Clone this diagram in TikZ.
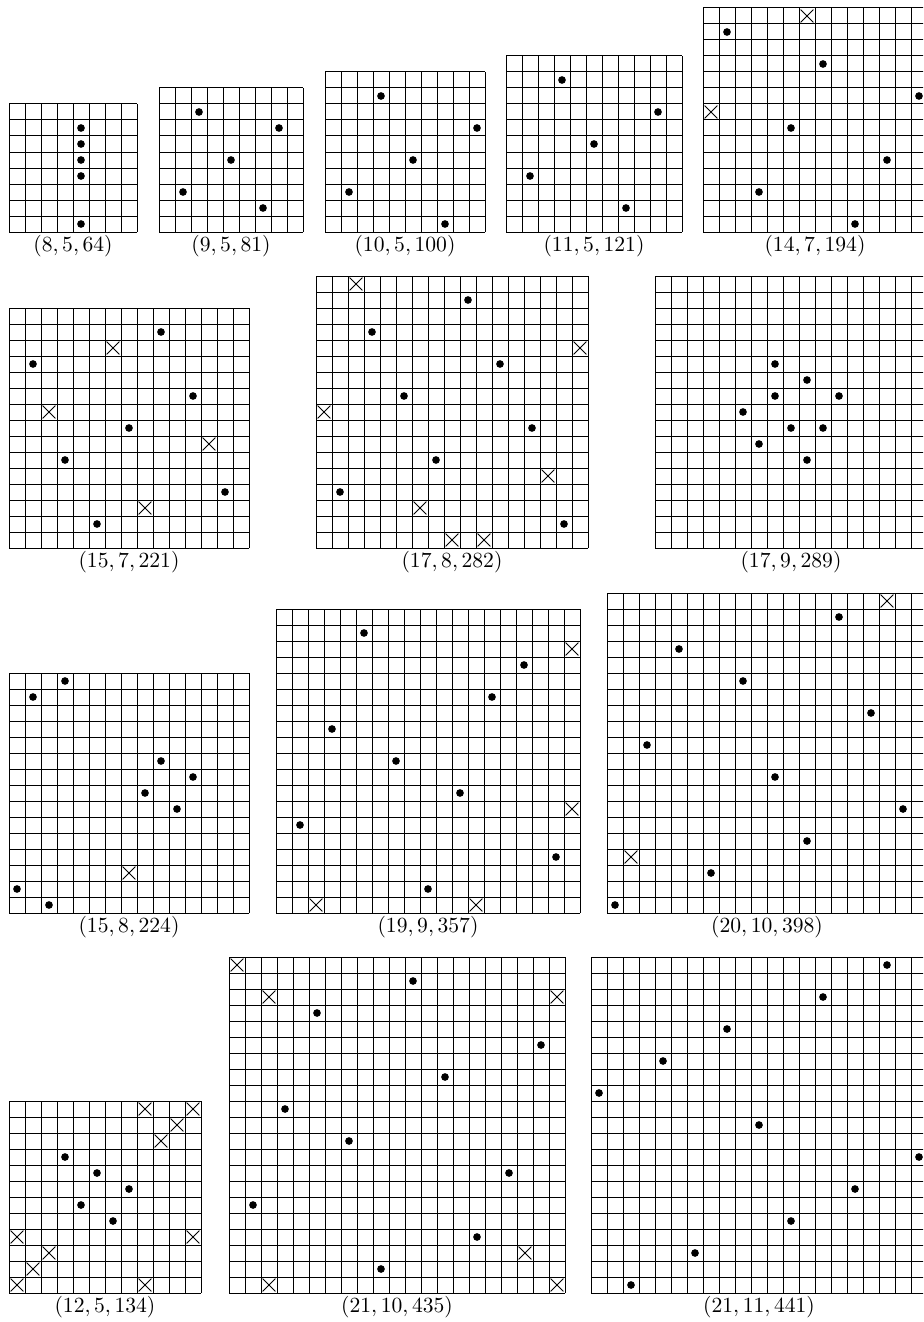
\documentclass[tikz,border=0pt]{standalone}
\usepackage{amsmath,amssymb}
\usepackage{tikz}
\usetikzlibrary{calc, positioning}

% #1 name, #2 left, #3 bottom, #4 size, #5 dots, #6 crosses, #7 label
\newcommand{\board}[7]{
  \begin{scope}[shift={(#2,-#3)}]
    \foreach \i in {0,...,#4} {
      \draw[gridline] (\i,0) -- (\i,#4);
      \draw[gridline] (0,\i) -- (#4,\i);
    }
    \foreach \cc/\rr in {#5}
      \fill (\cc+0.5,#4-\rr-0.5) circle (0.24);
    \ifx\relax#6\relax\else
    \foreach \cc/\rr in {#6}
      \draw[cross] (\cc+0.1,#4-\rr-0.1) -- (\cc+0.9,#4-\rr-0.9)
                   (\cc+0.1,#4-\rr-0.9) -- (\cc+0.9,#4-\rr-0.1);
    \fi
    \node[lbl] (#1) at (#4/2,-0.9) {$#7$};
  \end{scope}
}

\begin{document}
\begin{tikzpicture}[x=8pt, y=8pt,
    gridline/.style={line width=0.5pt},
    cross/.style={line width=0.45pt},
    lbl/.style={inner sep=0pt, scale=1.08}]
  \useasboundingbox (0,0) rectangle (57.6875,-82.625);
  \clip (0,0) rectangle (57.6875,-82.625);

  \board{b64}{0.5625}{14.5}{8}{4/1,4/2,4/3,4/4,4/7}{}{(8,5,64)}
  \board{b81}{9.9375}{14.5}{9}{2/1,7/2,4/4,1/6,6/7}{}{(9,5,81)}
  \board{b100}{20.3125}{14.5}{10}{3/1,9/3,5/5,1/7,7/9}{}{(10,5,100)}
  \board{b121}{31.625}{14.5}{11}{3/1,9/3,5/5,1/7,7/9}{}{(11,5,121)}
  \board{b194}{43.9375}{14.5}{14}{1/1,7/3,13/5,5/7,11/9,3/11,9/13}{6/0,0/6}{(14,7,194)}

  \board{b221}{0.5625}{34.25}{15}{9/1,1/3,11/5,7/7,3/9,13/11,5/13}{6/2,2/6,12/8,8/12}{(15,7,221)}
  \board{b282}{19.75}{34.25}{17}{9/1,3/3,11/5,5/7,13/9,7/11,1/13,15/15}{2/0,16/4,0/8,14/12,6/14,8/16,10/16}{(17,8,282)}
  \board{b289}{40.9375}{34.25}{17}{7/5,9/6,7/7,11/7,5/8,8/9,10/9,6/10,9/11}{}{(17,9,289)}

  \board{b224}{0.5625}{57.0625}{15}{3/0,1/1,9/5,11/6,8/7,10/8,0/13,2/14}{7/12}{(15,8,224)}
  \board{b357}{17.25}{57.0625}{19}{5/1,15/3,13/5,3/7,7/9,11/11,1/13,17/15,9/17}{18/2,18/12,2/18,12/18}{(19,9,357)}
  \board{b398}{37.9375}{57.0625}{20}{14/1,4/3,8/5,16/7,2/9,10/11,18/13,12/15,6/17,0/19}{17/0,1/16}{(20,10,398)}

  \board{b134}{0.5625}{80.8125}{12}{3/3,5/4,7/5,4/6,6/7}{8/0,11/0,10/1,9/2,0/8,11/8,2/9,1/10,0/11,8/11}{(12,5,134)}
  \board{b435}{14.3125}{80.8125}{21}{11/1,5/3,19/5,13/7,3/9,7/11,17/13,1/15,15/17,9/19}{0/0,2/2,20/2,18/18,2/20,20/20}{(21,10,435)}
  \board{b441}{36.9375}{80.8125}{21}{18/0,14/2,8/4,4/6,0/8,10/10,20/12,16/14,12/16,6/18,2/20}{}{(21,11,441)}

\end{tikzpicture}
\end{document}
